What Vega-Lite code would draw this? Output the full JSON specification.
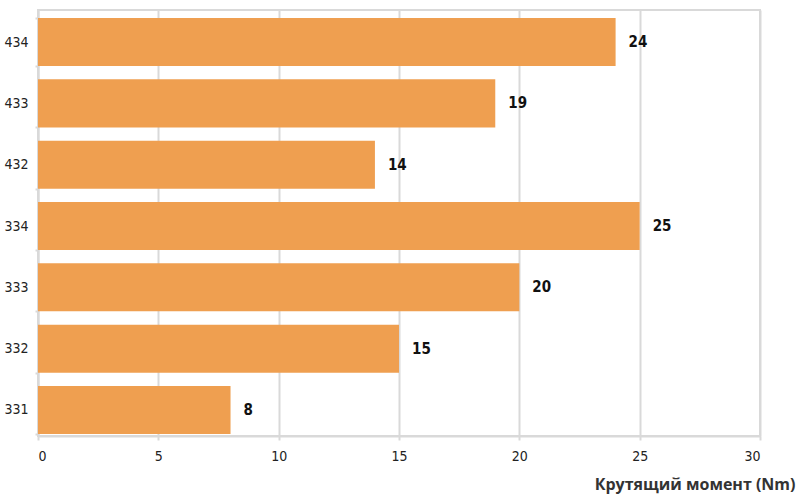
{
  "$schema": "https://vega.github.io/schema/vega-lite/v6.json",
  "width": 722,
  "height": 426,
  "autosize": "none",
  "padding": {"left": 38, "top": 10, "right": 40, "bottom": 58},
  "background": "white",
  "config": {"view": {"stroke": "#d9d9d9", "strokeWidth": 2}},
  "data": {"values": [
    {"size": "434", "torque": 24},
    {"size": "433", "torque": 19},
    {"size": "432", "torque": 14},
    {"size": "334", "torque": 25},
    {"size": "333", "torque": 20},
    {"size": "332", "torque": 15},
    {"size": "331", "torque": 8}
  ]},
  "encoding": {
    "y": {"field": "size", "type": "nominal", "sort": null,
      "scale": {"paddingInner": 0.217, "paddingOuter": 0.082, "align": 0.8},
      "axis": {"title": null, "ticks": true, "tickBand": "extent", "tickSize": 3, "tickColor": "#d9d9d9", "tickWidth": 2,
        "domainColor": "#d9d9d9", "domainWidth": 2,
        "labelFont": "'Liberation Sans Narrow', 'DejaVu Sans Condensed', Roboto, sans-serif", "labelFontSize": 14, "labelColor": "#222", "labelPadding": 7}},
    "x": {"field": "torque", "type": "quantitative",
      "scale": {"domain": [0, 30]},
      "axis": {"values": [0, 5, 10, 15, 20, 25, 30], "grid": true, "gridColor": "#d9d9d9", "gridWidth": 2,
        "domainColor": "#d9d9d9", "domainWidth": 2, "tickColor": "#d9d9d9", "tickWidth": 2, "tickSize": 4,
        "labelFont": "'Liberation Sans Narrow', 'DejaVu Sans Condensed', Roboto, sans-serif", "labelFontSize": 14, "labelColor": "#222", "labelPadding": 9,
        "title": "Крутящий момент (Nm)", "titleFont": "Open Sans", "titleFontSize": 16, "titleFontWeight": "bold",
        "titleColor": "#333", "titleAlign": "right", "titleAnchor": null, "titleX": 757, "titleY": 53, "titleBaseline": "alphabetic"}}
  },
  "layer": [
    {"mark": {"type": "bar", "color": "#EF9F50"}},
    {"mark": {"type": "text", "align": "left", "dx": 13, "font": "'Liberation Sans Narrow', 'DejaVu Sans Condensed', Roboto, sans-serif", "fontSize": 15, "fontWeight": "bold", "color": "#111"},
     "encoding": {"text": {"field": "torque", "type": "quantitative"}}}
  ]
}
